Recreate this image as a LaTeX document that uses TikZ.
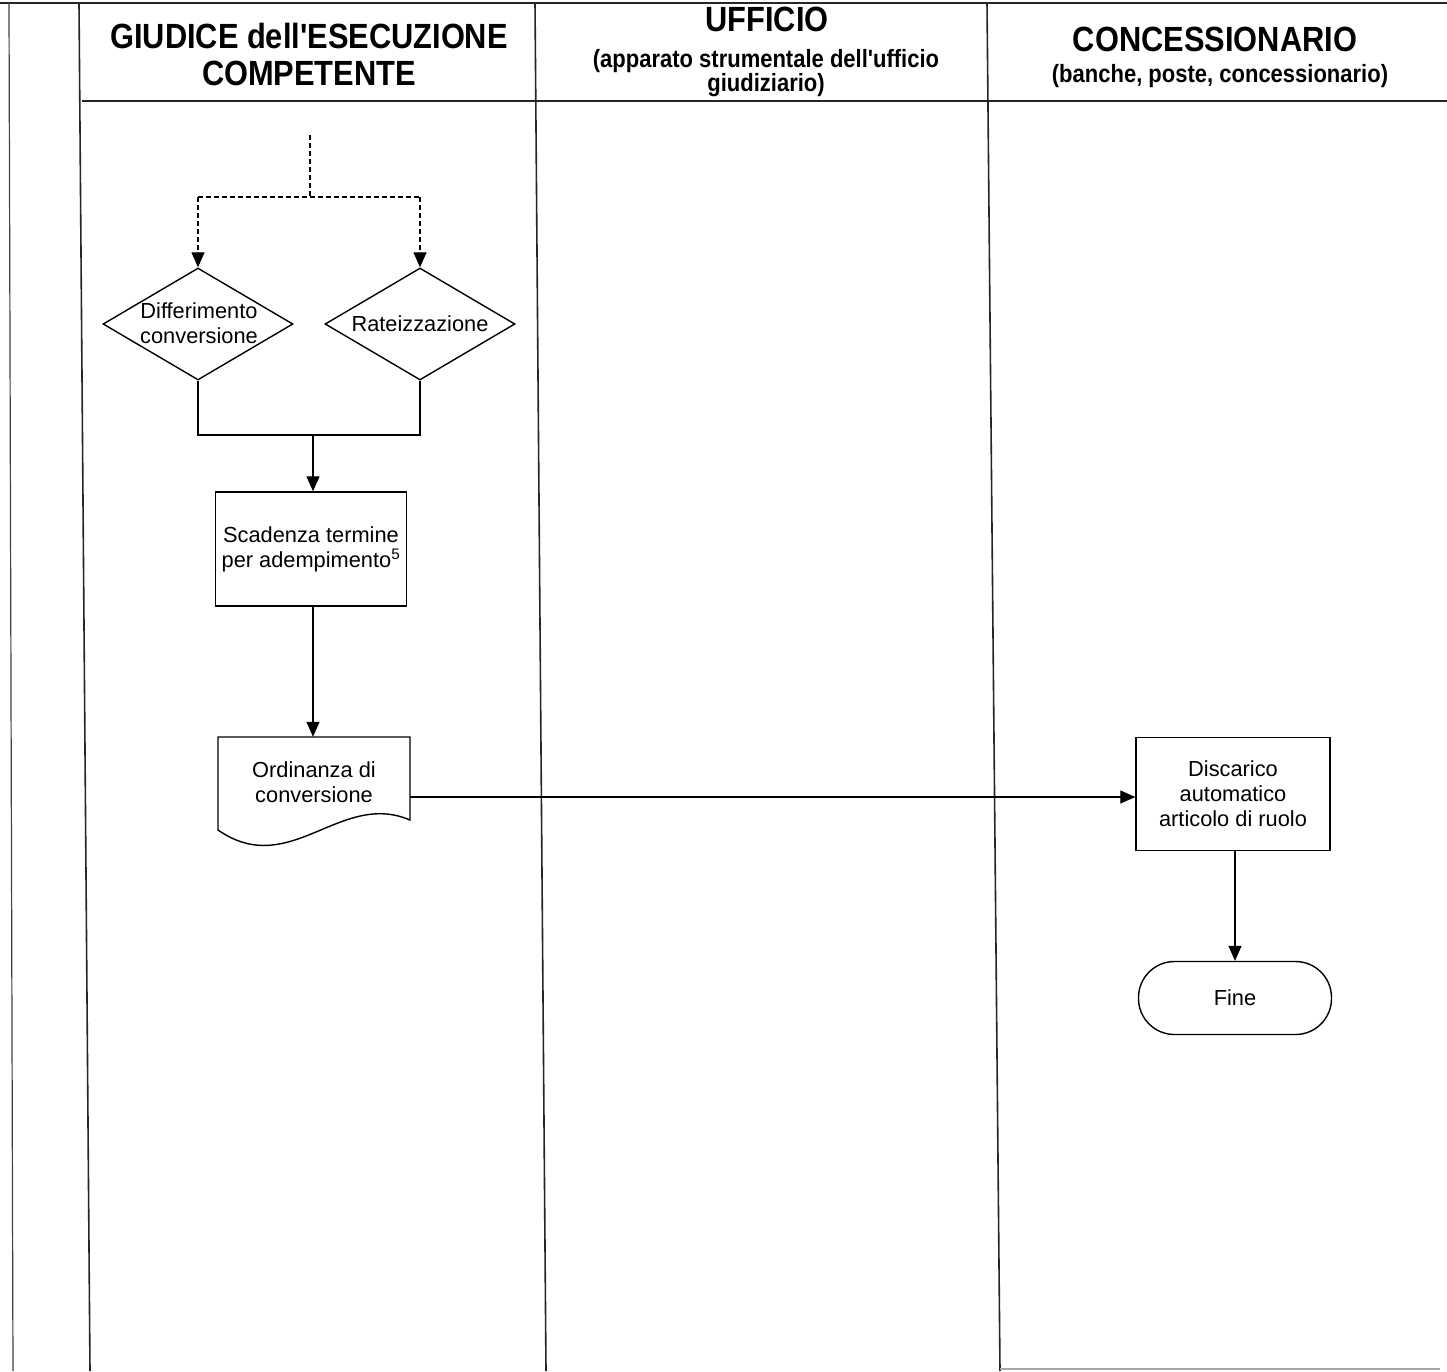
\documentclass[tikz,border=0pt]{standalone}
\usepackage{fontspec}
\setmainfont{Liberation Sans}[Ligatures=TeXOff]
\usetikzlibrary{arrows.meta,shapes.geometric}
\begin{document}
\begin{tikzpicture}[x=1pt,y=-1pt,
  every node/.style={font=\fontsize{21.8}{25}\selectfont, align=center, inner sep=0pt},
  frame/.style={line width=1.6pt, draw=black!85},
  head/.style={font=\bfseries\fontsize{35}{37}\selectfont\addfontfeature{FakeStretch=0.88}},
  subhead/.style={font=\bfseries\fontsize{25}{24}\selectfont\addfontfeature{FakeStretch=0.88}},
  proc/.style={draw, line width=1.4pt, minimum width=191pt, minimum height=114pt},
  dia/.style={draw, diamond, line width=1.4pt, minimum width=190pt, minimum height=112pt},
  term/.style={draw, line width=1.4pt, rounded corners=36pt, minimum width=193pt, minimum height=73pt},
  flow/.style={line width=1.3pt, -{Triangle[length=15pt,width=13pt]}},
  link/.style={line width=1.3pt},
  dflow/.style={line width=1.3pt, dash pattern=on 5pt off 3pt, -{Triangle[length=15pt,width=13pt]}},
  dlink/.style={line width=1.3pt, dash pattern=on 5pt off 3pt}
]
\useasboundingbox[fill=white] (0,0) rectangle (1447,1371);

% frame
\draw[frame] (0,3) -- (1447,3);
\draw[frame] (82,101) -- (1447,101);
\draw[line width=1.2pt, draw=black!75] (9,3) -- (13,1371);
\draw[frame] (79,3) -- (90,1371);
\draw[frame] (535,3) -- (546,1371);
\draw[frame] (987,3) -- (1000,1371);
\draw[line width=1.2pt, draw=black!35] (1000,1369) -- (1440,1369);

% headers
\node[head] (h1) at (309,54) {GIUDICE dell'ESECUZIONE\\COMPETENTE};
\node[head] (h2) at (767,19) {UFFICIO};
\node[subhead] (h2s) at (766,73) {(apparato strumentale dell'ufficio\\giudiziario)};
\node[head] (h3) at (1215,39) {CONCESSIONARIO};
\node[subhead] (h3s) at (1220,76) {(banche, poste, concessionario)};

% nodes
\coordinate (start) at (310,135);
\coordinate (split) at (310,197);
\node[dia] (d1) at (198,324) {};
\node (d1t) at (199,323) {Differimento\\conversione};
\node[dia] (d2) at (420,324) {};
\node (d2t) at (420,324) {Rateizzazione};
\coordinate (join) at (313,435);
\node[proc] (scad) at (311,549) {Scadenza termine\\per adempimento\textsuperscript{5}};
\node (doc) at (314,782) [minimum width=192pt, minimum height=90pt] {Ordinanza di\\conversione};
\draw[line width=1.4pt] (218,737) -- (410,737) -- (410,820)
   .. controls (340,790) and (290,880) .. (218,830) -- cycle;
\node[proc, minimum width=194pt, minimum height=113pt] (dis) at (1233,794) {Discarico\\automatico\\articolo di ruolo};
\node[term] (fine) at (1235,998) {Fine};

% connectors
\draw[dlink] (start) -- (split);
\draw[dlink] (d1.north |- split) -- (d2.north |- split);
\draw[dflow] (d1.north |- split) -- (d1.north);
\draw[dflow] (d2.north |- split) -- (d2.north);
\draw[link] (d1.south) -- (d1.south |- join) -- (d2.south |- join) -- (d2.south);
\draw[flow] (join) -- (scad.north -| join);
\draw[flow] (scad.south -| join) -- (doc.north -| join);
\draw[flow] (doc.east |- 0,797) -- (dis.west |- 0,797);
\draw[flow] (dis.south -| fine.north) -- (fine.north);
\end{tikzpicture}
\end{document}
